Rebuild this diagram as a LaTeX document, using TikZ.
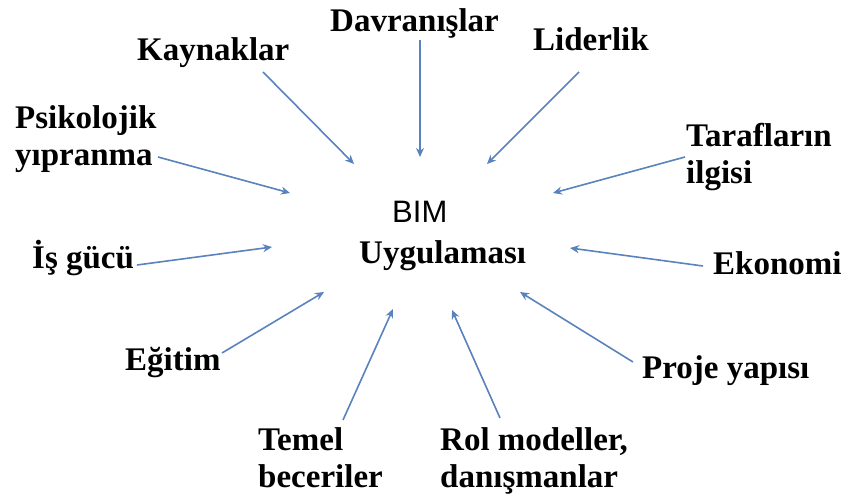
\documentclass[tikz,border=0pt]{standalone}
\usepackage{fontspec}
\setmainfont{Liberation Serif}
\newfontfamily\arialfont{Liberation Sans}
\usetikzlibrary{arrows.meta}
\tikzset{
  lbl/.style={font=\bfseries\fontsize{33}{37}\selectfont, inner sep=0pt, align=left, anchor=base west, text=black},
  arr/.style={draw=arrowblue, line width=1.6pt, -{Stealth[length=9pt,width=8pt,fill=arrowhead]}},
}
\definecolor{arrowblue}{HTML}{5A82BC}
\definecolor{arrowhead}{HTML}{2A5596}
\begin{document}
\begin{tikzpicture}[x=1pt,y=-1pt]
  \useasboundingbox (0,0) rectangle (850,495);
  % centre (multi-line labels are placed by the baseline of their last line)
  \node[inner sep=0pt, anchor=base west, font=\arialfont\fontsize{31}{37}\selectfont] (bim) at (392,222) {BIM};
  \node[lbl] (uyg) at (359,263) {Uygulaması};
  % surrounding factors
  \node[lbl] (dav) at (330,32) {Davranışlar};
  \node[lbl] (kay) at (137,60) {Kaynaklar};
  \node[lbl] (lid) at (533,50) {Liderlik};
  \node[lbl] (psi) at (15,165) {Psikolojik\\yıpranma};
  \node[lbl] (tar) at (686,183) {Tarafların\\ilgisi};
  \node[lbl] (isg) at (32,268) {İş gücü};
  \node[lbl] (eko) at (713,274) {Ekonomi};
  \node[lbl] (egi) at (125,370) {Eğitim};
  \node[lbl] (pro) at (642,378) {Proje yapısı};
  \node[lbl] (tem) at (258,487) {Temel\\beceriler};
  \node[lbl] (rol) at (440,487) {Rol modeller,\\danışmanlar};
  % connector ends
  \coordinate (davS) at (420,40);  \coordinate (davT) at (420,157);
  \coordinate (kayS) at (263,72);  \coordinate (kayT) at (354,164);
  \coordinate (lidS) at (579,72);  \coordinate (lidT) at (487,164);
  \coordinate (psiS) at (158,157); \coordinate (psiT) at (290,193);
  \coordinate (tarS) at (685,157); \coordinate (tarT) at (553,193);
  \coordinate (isgS) at (137,265); \coordinate (isgT) at (272,247);
  \coordinate (ekoS) at (703,266); \coordinate (ekoT) at (570,248);
  \coordinate (egiS) at (222,353); \coordinate (egiT) at (324,292);
  \coordinate (temS) at (343,420); \coordinate (temT) at (393,309);
  \coordinate (rolS) at (500,418); \coordinate (rolT) at (452,310);
  \coordinate (proS) at (633,362); \coordinate (proT) at (520,292);
  \foreach \n in {dav,kay,lid,psi,tar,isg,eko,egi,tem,rol,pro}
    \draw[arr] (\n S) -- (\n T);
\end{tikzpicture}
\end{document}
